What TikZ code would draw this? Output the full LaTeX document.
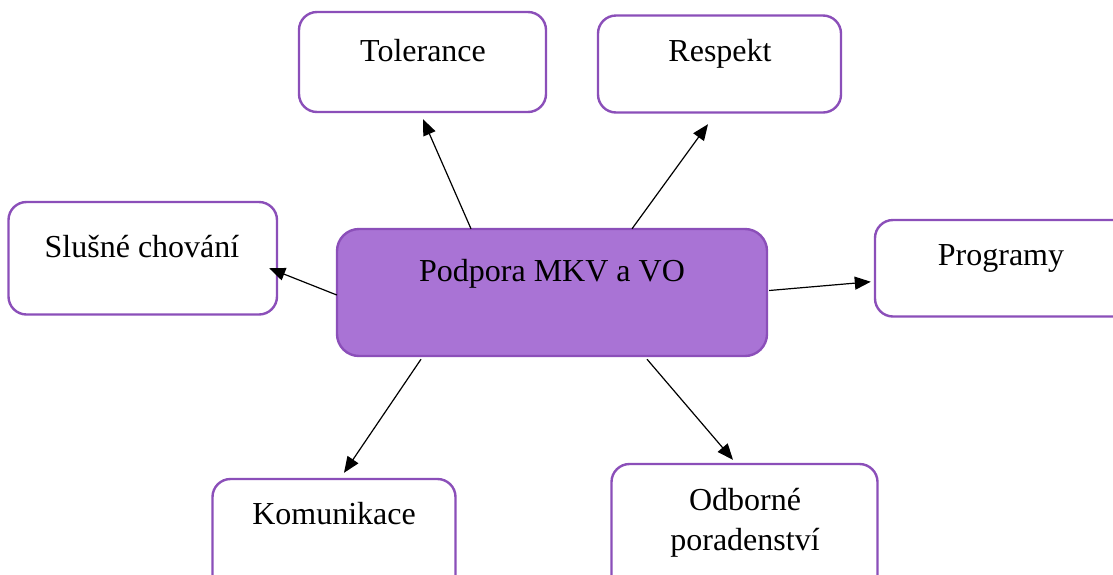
\documentclass[tikz,border=0pt]{standalone}
\usepackage{fontspec}
\setmainfont{Liberation Serif}
\usetikzlibrary{calc,arrows.meta}
\definecolor{boxborder}{HTML}{8B4FB9}
\definecolor{boxfill}{HTML}{A973D5}
\begin{document}
\begin{tikzpicture}[x=1pt,y=-1pt,
  box/.style={draw=boxborder,line width=2.4pt,rounded corners=18pt,fill=white,
    minimum width=#1,inner sep=0pt},
  centerbox/.style={draw=boxborder,line width=2.4pt,rounded corners=22pt,fill=boxfill,
    minimum width=430pt,minimum height=127pt,inner sep=0pt},
  lbl/.style={anchor=base,inner sep=0pt,font=\fontsize{32}{40}\selectfont,align=center},
  conn/.style={line width=1.2pt,-{Triangle[length=16pt,width=13pt]}}]
\useasboundingbox (0,0) rectangle (1113,574);
\clip (0,0) rectangle (1113,574);
% boxes
\node[box=247pt,minimum height=100pt] (tol) at (422.5,62) {};
\node[box=243pt,minimum height=97pt] (res) at (719.5,64) {};
\node[box=268.5pt,minimum height=112.5pt] (slu) at (142.75,258.25) {};
\node[box=265pt,minimum height=96.5pt] (prog) at (1007.5,268.25) {};
\node[box=243pt,minimum height=121pt] (kom) at (334,539.5) {};
\node[box=266pt,minimum height=136pt] (odb) at (744.5,532) {};
\node[centerbox] (ctr) at (552,292.5) {};
% texts
\node[lbl] (tolT) at (423,61) {Tolerance};
\node[lbl] (resT) at (720,61) {Respekt};
\node[lbl] (sluT) at (142,257) {Slušné chování};
\node[lbl] (progT) at (1001,265.5) {Programy};
\node[lbl] (ctrT) at (552,281.5) {Podpora MKV a VO};
\node[lbl] (komT) at (334,524) {Komunikace};
\node[lbl] (odbT1) at (745,510) {Odborné};
\node[lbl] (odbT2) at (745,550) {poradenství};
% connectors
\draw[conn] ($(ctr.north)+(-81,1)$) -- ($(tol.south)+(0.5,6)$);
\draw[conn] ($(ctr.north)+(80,1)$) -- ($(res.south)+(-11.5,10.5)$);
\draw[conn] ($(ctr.west)+(1,2.5)$) -- ($(slu.east)+(-9,10)$);
\draw[conn] ($(ctr.east)+(1,-2)$) -- ($(prog.west)+(-3,13.5)$);
\draw[conn] ($(ctr.south)+(-131,2)$) -- ($(kom.north)+(10,-5)$);
\draw[conn] ($(ctr.south)+(95,2)$) -- ($(odb.north)+(-11.5,-3)$);
\end{tikzpicture}
\end{document}
